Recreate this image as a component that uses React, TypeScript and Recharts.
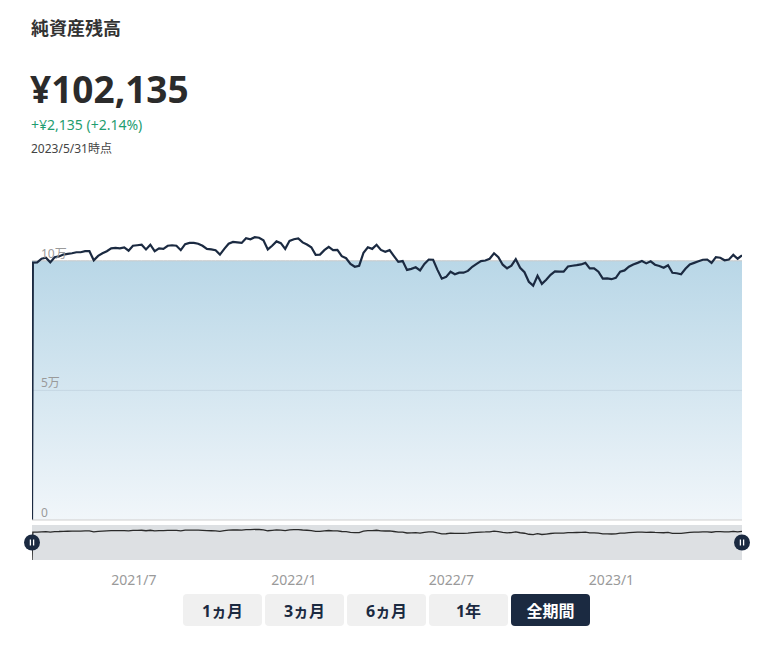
import React from 'react';
import { ComposedChart, LineChart, Line, Area, XAxis, YAxis, Brush, ReferenceLine } from 'recharts';

const FONT = "'Noto Sans', 'Noto Sans CJK JP', sans-serif";

const title = '純資産残高';
const currentValueText = '¥102,135';
const changeText = '+¥2,135 (+2.14%)';
const asOfText = '2023/5/31時点';

const openingDate = '2021-03-06';
const openingValue = 0;
const firstDate = '2021-03-07';
const endDate = '2023-05-31';
const stepDays = 5;
const principalAmount = 100000;

const netAssetValues = [
  99300, 99400, 100800, 101200, 99400, 101400, 101700, 102400, 102700, 102900,
  103300, 103300, 103700, 103700, 100200, 101900, 102900, 103700, 104800, 105000,
  104800, 105200, 103900, 105800, 106000, 106200, 104400, 106200, 103700, 104800,
  104600, 105800, 106000, 105800, 104100, 106400, 106900, 106900, 106600, 105800,
  104600, 104400, 104100, 102400, 104600, 106600, 107300, 107100, 106900, 108700,
  108300, 109100, 108900, 107900, 104400, 105800, 107500, 106800, 104600, 107700,
  108300, 108600, 107100, 106300, 105200, 102300, 102400, 104100, 105400, 104100,
  104200, 101800, 101000, 98800, 97700, 98100, 103100, 105200, 104600, 106200,
  104200, 103500, 104100, 101800, 99600, 99900, 96500, 96900, 97500, 96300,
  98800, 100500, 100400, 96500, 93100, 93800, 95800, 94800, 95400, 95400,
  96100, 97700, 98800, 99900, 100100, 100800, 102900, 101400, 98500, 97100,
  98100, 100600, 97300, 95600, 91900, 90400, 94200, 91100, 92700, 94600,
  95900, 95800, 95800, 97800, 98100, 98300, 98600, 99200, 97100, 97100,
  95800, 93100, 93200, 92900, 93400, 95800, 96300, 97700, 98600, 99200,
  99900, 99000, 99800, 98500, 98000, 97300, 98300, 95400, 95200, 94800,
  96900, 98600, 99200, 99800, 100400, 100500, 99200, 101400, 101200, 100200,
  100500, 102300, 100800, 102135,
];

const xTickDates = ['2021-07-01', '2022-01-01', '2022-07-01', '2023-01-01'];
const xTickLabels = ['2021/7', '2022/1', '2022/7', '2023/1'];
const yTickValues = [0, 50000, 100000];
const yTickLabels = ['0', '5万', '10万'];
const periodButtons = ['1ヵ月', '3ヵ月', '6ヵ月', '1年', '全期間'];
const activePeriod = '全期間';

const DAY = 86400000;
const toTime = (s: string) => {
  const [y, m, d] = s.split('-').map(Number);
  return Date.UTC(y, m - 1, d);
};

const data = [
  { t: toTime(openingDate), value: openingValue, principal: principalAmount },
  ...netAssetValues.map((v, i) => ({
    t: toTime(firstDate) + i * stepDays * DAY,
    value: v,
    principal: principalAmount,
  })),
];

const xTicks = xTickDates.map(toTime);
const xDomain = [toTime(openingDate), toTime(endDate)];
const yDomain = [0, 125000];

const XTick = (props: any) => {
  const idx = xTicks.indexOf(props.payload.value);
  return (
    <text x={props.x} y={405} textAnchor="middle" fontSize={14} fill="#9a9a9a">
      {xTickLabels[idx]}
    </text>
  );
};

const YTick = (props: any) => {
  const idx = yTickValues.indexOf(props.payload.value);
  return (
    <text x={41} y={props.y - 3} textAnchor="start" fontSize={12} fill="#9a9a9a">
      {yTickLabels[idx]}
    </text>
  );
};

const Traveller = (props: any) => {
  const { x, y, width, height } = props;
  const cx = x < 390 ? x : x + width;
  const cy = y + height / 2;
  return (
    <g>
      <circle cx={cx} cy={cy} r={8} fill="#1b2a41" />
      <line x1={cx - 1.6} x2={cx - 1.6} y1={cy - 3} y2={cy + 3} stroke="#fff" strokeWidth={1.3} />
      <line x1={cx + 1.6} x2={cx + 1.6} y1={cy - 3} y2={cy + 3} stroke="#fff" strokeWidth={1.3} />
    </g>
  );
};

export default function App() {
  return (
    <div
      style={{
        position: 'absolute',
        left: 0,
        top: 0,
        width: 780,
        height: 653,
        background: '#fff',
        fontFamily: FONT,
        overflow: 'hidden',
      }}
    >
      <div style={{ position: 'absolute', left: 31, top: 19, fontSize: 18, fontWeight: 700, color: '#333', lineHeight: 1 }}>
        {title}
      </div>
      <div style={{ position: 'absolute', left: 30, top: 70, fontSize: 37, fontWeight: 700, color: '#2b2b2b', lineHeight: 1 }}>
        {currentValueText}
      </div>
      <div style={{ position: 'absolute', left: 31, top: 118, fontSize: 14, color: '#1f9d70', lineHeight: 1 }}>
        {changeText}
      </div>
      <div style={{ position: 'absolute', left: 31, top: 143, fontSize: 12, color: '#444', lineHeight: 1 }}>
        {asOfText}
      </div>

      {/* brush panorama (behind the main chart's transparent brush) */}
      <div style={{ position: 'absolute', left: 32, top: 525, width: 710, height: 35, background: '#dde0e3' }}>
        <LineChart width={710} height={35} data={data} margin={{ top: 0, right: 0, bottom: 0, left: 0 }}>
          <XAxis dataKey="t" type="number" domain={xDomain} hide />
          <YAxis domain={yDomain} hide />
          <Line
            type="linear"
            dataKey="value"
            stroke="#2a2a2a"
            strokeWidth={1.3}
            dot={false}
            activeDot={false}
            isAnimationActive={false}
          />
        </LineChart>
      </div>

      <div style={{ position: 'absolute', left: 0, top: 180 }}>
        <ComposedChart
          width={780}
          height={420}
          data={data}
          margin={{ top: 16, right: 38, bottom: 25, left: 31 }}
        >
          <defs>
            <linearGradient id="principalFill" x1="0" y1="0" x2="0" y2="1">
              <stop offset="0%" stopColor="#b9d7e7" />
              <stop offset="100%" stopColor="#f1f6fa" />
            </linearGradient>
          </defs>
          <Area
            type="linear"
            dataKey="principal"
            stroke="#c8c8c8"
            strokeWidth={1}
            fill="url(#principalFill)"
            fillOpacity={1}
            dot={false}
            activeDot={false}
            isAnimationActive={false}
          />
          <ReferenceLine y={50000} stroke="rgba(90,110,130,0.12)" />
          <XAxis
            dataKey="t"
            type="number"
            domain={xDomain}
            ticks={xTicks}
            height={20}
            axisLine={{ stroke: '#cfcfcf' }}
            tickLine={false}
            tick={<XTick />}
            allowDataOverflow
          />
          <YAxis
            domain={yDomain}
            ticks={yTickValues}
            width={1}
            interval={0}
            axisLine={false}
            tickLine={false}
            tick={<YTick />}
            allowDataOverflow
          />
          <Line
            type="linear"
            dataKey="value"
            stroke="#1b2a41"
            strokeWidth={2.2}
            dot={false}
            activeDot={false}
            isAnimationActive={false}
          />
          <Brush
            x={32}
            y={345}
            width={710}
            height={35}
            travellerWidth={16}
            fill="transparent"
            stroke="transparent"
            traveller={(p: any) => <Traveller {...p} />}
          />
        </ComposedChart>
      </div>

      <div style={{ position: 'absolute', left: 183, top: 594, display: 'flex', gap: 3 }}>
        {periodButtons.map((label) => {
          const active = label === activePeriod;
          return (
            <div
              key={label}
              style={{
                width: 79,
                height: 32,
                borderRadius: 4,
                background: active ? '#1b2a41' : '#f0f0f0',
                color: active ? '#fff' : '#1b2a41',
                fontWeight: 700,
                fontSize: 16,
                display: 'flex',
                alignItems: 'center',
                justifyContent: 'center',
              }}
            >
              {label}
            </div>
          );
        })}
      </div>
    </div>
  );
}
